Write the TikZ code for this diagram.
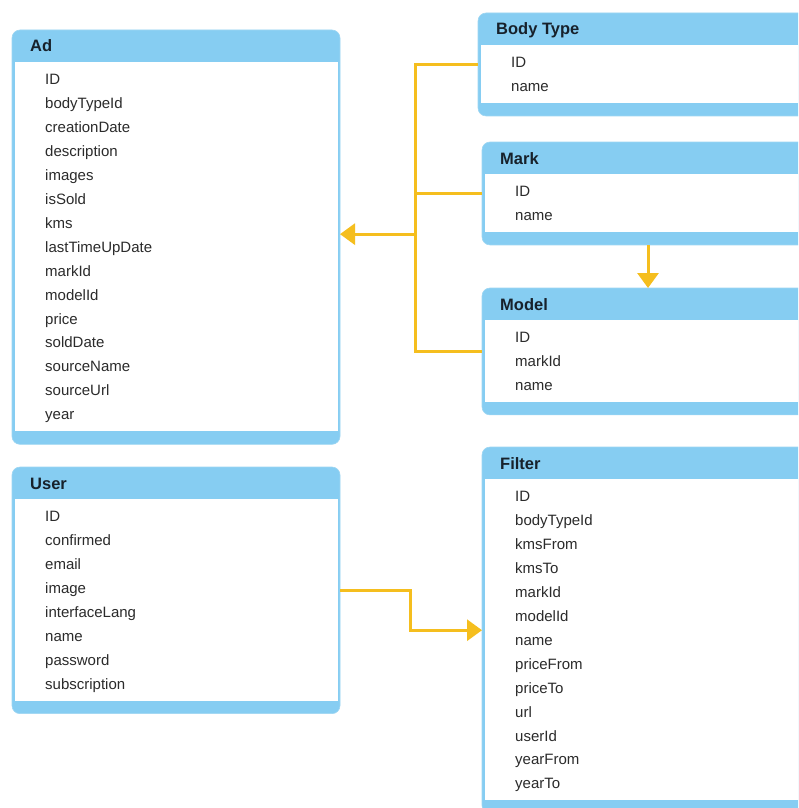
\documentclass[tikz,border=0pt]{standalone}
\usepackage{fontspec}
\setmainfont{Liberation Sans}
\usetikzlibrary{calc,arrows.meta}
\definecolor{hdr}{HTML}{86CDF2}
\definecolor{edge}{HTML}{9ED6F2}
\definecolor{gold}{HTML}{F5BE1E}
\definecolor{ttl}{HTML}{17212B}
\definecolor{fld}{HTML}{2B2B2B}
\tikzset{
  tblbox/.style={rectangle, rounded corners=8pt, fill=hdr, draw=edge, line width=0.6pt, inner sep=0pt, outer sep=0pt},
  titletext/.style={inner sep=0pt, font=\fontsize{16.5}{18}\selectfont\bfseries, text=ttl},
  fieldtext/.style={inner sep=0pt, font=\fontsize{15}{17}\selectfont, text=fld},
  conn/.style={draw=gold, line width=3pt, line join=miter},
  arr/.style={conn, -{Triangle[length=15pt,width=21pt]}}
}
% #1 name, #2 left, #3 top (negative), #4 right, #5 rows, #6 title, #7 fields
\newcommand\ertable[7]{%
  \pgfmathsetmacro\tbh{32+17+(#5-1)*23.95+17+13}%
  \pgfmathsetmacro\tbw{#4-#2}%
  \node[tblbox, anchor=north west, minimum width=\tbw pt, minimum height=\tbh pt] (#1) at (#2,#3) {};
  \fill[white] ($(#1.north west)+(2.5,-32)$) rectangle ($(#1.south east)+(-2.5,13)$);
  \node[titletext, anchor=base west] (#1-title) at ($(#1.north west)+(18,-22)$) {#6};
  \foreach \f [count=\i] in {#7} {
    \node[fieldtext, anchor=base west] (#1-f\i) at ($(#1.north west)+(33,-54.5-\i*23.95+23.95)$) {\f};
  }%
}
\begin{document}
\begin{tikzpicture}[x=1pt,y=1pt]
\clip (0,0) rectangle (798,-808);
\fill[white] (0,0) rectangle (798,-808);
\ertable{ad}{12}{-30}{340}{15}{Ad}{ID,bodyTypeId,creationDate,description,images,isSold,kms,lastTimeUpDate,markId,modelId,price,soldDate,sourceName,sourceUrl,year}
\ertable{bt}{478}{-13}{812}{2}{Body Type}{ID,name}
\ertable{mk}{482}{-142}{814}{2}{Mark}{ID,name}
\ertable{md}{482}{-288}{814}{3}{Model}{ID,markId,name}
\ertable{us}{12}{-467}{340}{8}{User}{ID,confirmed,email,image,interfaceLang,name,password,subscription}
\ertable{fl}{482}{-447}{814}{13}{Filter}{ID,bodyTypeId,kmsFrom,kmsTo,markId,modelId,name,priceFrom,priceTo,url,userId,yearFrom,yearTo}
\coordinate (jx) at (415,0);
\coordinate (ux) at (410,0);
\draw[conn] (bt.west) -- (bt.west -| jx) -- (md.west -| jx) -- (md.west);
\draw[conn] (mk.west) -- (mk.west -| jx);
\draw[arr] ($(ad.east -| jx)+(0,3)$) -- ($(ad.east)+(0,3)$);
\draw[arr] (mk.south) -- (md.north);
\draw[arr] (us.east) -- (us.east -| ux) -- (fl.west -| ux) -- (fl.west);
\end{tikzpicture}
\end{document}
